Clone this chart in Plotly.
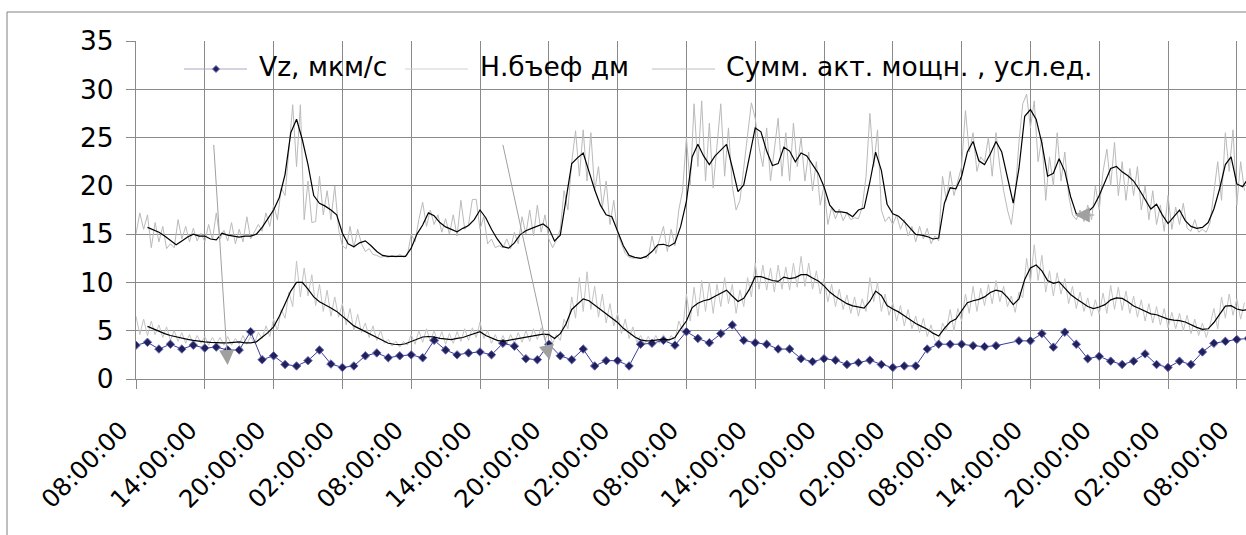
import plotly.graph_objects as go

# ---------------- data ----------------
# x axis: hours since the first 08:00:00
tick_hours = [0, 6, 12, 18, 24, 30, 36, 42, 48, 54, 60, 66, 72, 78, 84, 90, 96]
tick_labels = ["08:00:00", "14:00:00", "20:00:00", "02:00:00", "08:00:00", "14:00:00",
               "20:00:00", "02:00:00", "08:00:00", "14:00:00", "20:00:00", "02:00:00",
               "08:00:00", "14:00:00", "20:00:00", "02:00:00", "08:00:00"]
y_ticks = [0, 5, 10, 15, 20, 25, 30, 35]

# Vz, мкм/с  (hourly)
vz = [3.5, 3.8, 3.1, 3.6, 3.1, 3.5, 3.2, 3.3, 3.0, 3.0,
      4.9, 2.0, 2.4, 1.5, 1.35, 1.9, 3.0, 1.55, 1.2, 1.35,
      2.4, 2.7, 2.2, 2.4, 2.5, 2.2, 4.0, 3.0, 2.5, 2.7,
      2.8, 2.5, 3.7, 3.4, 2.1, 2.0, 3.6, 2.4, 2.0, 3.1,
      1.35, 1.9, 1.9, 1.35, 3.6, 3.7, 4.0, 3.5, 4.9, 4.2,
      3.75, 4.7, 5.6, 4.0, 3.75, 3.6, 3.1, 3.1, 2.1, 1.8,
      2.1, 1.95, 1.5, 1.7, 1.95, 1.5, 1.2, 1.35, 1.35, 3.1,
      3.6, 3.6, 3.6, 3.45, 3.35, 3.45, None, 3.95, 3.95, 4.7,
      3.3, 4.85, 3.6, 2.1, 2.35, 1.85, 1.5, 1.85, 2.6, 1.5,
      1.2, 1.85, 1.5, 2.8, 3.7, 3.9, 4.1, 4.2]
vz_step_h = 1.0

# Сумм. акт. мощн., усл.ед. (raw, every 20 min)
summ = [15.0, 17.2, 15.5, 17.0, 13.6, 16.2, 14.2, 15.8, 13.5, 14.0, 13.6, 16.5,
        14.5, 15.8, 14.2, 15.6, 14.3, 15.1, 14.2, 16.0, 14.4, 17.2, 14.5, 15.4,
        14.3, 16.2, 14.0, 15.5, 14.2, 16.8, 14.5, 15.2, 16.0, 15.3, 17.2, 15.8,
        18.0, 16.5, 19.8, 19.0, 23.5, 28.4, 22.0, 28.4, 16.5, 20.5, 16.2, 16.3,
        21.0, 17.0, 19.5, 16.5, 20.0, 15.5, 13.8, 13.5, 15.8, 13.6, 15.5, 14.0,
        13.2, 13.5, 12.9, 12.8, 12.6, 12.7, 12.6, 12.8, 12.6, 12.9, 12.6, 12.8,
        15.0, 14.2, 16.5, 18.3, 15.8, 17.5, 16.0, 17.0, 15.2, 16.6, 15.0, 17.0,
        14.8, 18.5, 15.5, 16.0, 18.6, 18.6, 15.5, 16.8, 14.0, 14.5, 13.6, 13.8,
        13.6, 14.5, 13.5, 15.2, 14.0, 16.8, 15.0, 17.5, 14.8, 18.0, 15.2, 17.0,
        14.5, 13.6, 14.4, 15.5, 19.5, 17.5, 22.5, 25.7, 21.0, 25.8, 20.5, 25.5,
        19.5, 22.0, 17.8, 20.5, 16.0, 18.5, 15.0, 14.0, 13.0, 12.6, 12.5, 12.6,
        12.5, 12.6, 12.5, 14.8, 13.0, 14.5, 15.8, 13.2, 15.5, 13.8, 17.5, 19.5,
        25.0, 20.0, 28.5, 22.0, 28.8, 20.5, 26.5, 19.8, 24.0, 28.5, 21.0, 26.0,
        20.0, 17.5, 18.5, 22.0, 25.5, 28.6, 27.0, 24.0, 22.0, 26.0, 20.5, 23.8,
        27.0, 21.0, 25.5, 20.5, 26.5, 22.0, 25.0, 20.5, 23.5, 19.5, 22.5, 18.0,
        20.0, 16.0, 17.8, 16.6, 17.6, 16.4, 17.2, 16.5, 16.7, 16.6, 17.8, 21.0,
        27.5, 22.0, 25.8, 17.5, 16.3, 16.8, 16.0, 17.0, 15.5, 16.5, 14.8, 15.8,
        14.2, 15.8, 14.5, 15.6, 14.0, 14.8, 14.3, 21.0, 18.5, 21.5, 19.0, 20.5,
        22.0, 27.8, 23.5, 25.5, 21.5, 23.0, 22.5, 25.0, 21.0, 25.5, 22.0, 19.5,
        17.5, 16.0, 19.0, 24.5, 28.5, 29.5, 26.0, 28.8, 22.5, 25.0, 18.5, 23.0,
        20.0, 25.5, 20.5, 23.5, 19.0, 17.0, 16.5, 17.5, 16.3, 18.0, 16.5, 20.0,
        17.5, 21.5, 23.8, 20.0, 24.5, 19.0, 22.5, 18.5, 21.8, 19.0, 22.0, 17.5,
        20.0, 16.5, 19.5, 16.0, 18.0, 15.3, 19.0, 15.5, 17.8, 16.0, 18.2, 15.6,
        15.3, 16.5, 15.2, 15.5, 15.2, 16.2, 19.5, 22.5, 18.5, 25.5, 21.5, 25.8,
        18.0, 22.5, 19.5]

# Н.бъеф дм (raw, every 20 min)
nbef = [6.5, 4.6, 6.2, 4.5, 6.0, 4.6, 5.6, 4.3, 5.4, 4.0, 5.0, 3.9,
        4.8, 3.7, 4.6, 3.6, 4.5, 3.7, 4.4, 3.5, 4.3, 3.6, 4.3, 3.5,
        4.4, 3.5, 4.2, 3.6, 4.5, 3.6, 4.4, 3.7, 4.8, 4.2, 5.5, 4.4,
        6.2, 5.0, 7.2, 6.3, 9.0, 7.5, 12.2, 8.5, 11.5, 8.6, 10.8, 7.6,
        9.8, 7.0, 9.2, 6.5, 8.5, 6.4, 7.8, 5.6, 7.3, 5.0, 6.7, 4.8,
        5.8, 4.3, 5.5, 4.0, 5.0, 3.7, 4.1, 3.4, 3.9, 3.3, 3.9, 3.5,
        4.6, 3.6, 5.0, 3.8, 5.2, 3.9, 5.0, 3.8, 4.9, 3.6, 4.7, 3.7,
        4.9, 3.9, 5.2, 4.0, 5.3, 4.3, 5.9, 4.2, 5.0, 3.7, 4.6, 3.6,
        4.5, 3.6, 4.6, 3.7, 4.8, 3.8, 5.0, 3.9, 5.2, 4.1, 5.3, 4.0,
        4.9, 3.7, 4.6, 4.0, 6.2, 5.2, 8.5, 6.3, 10.5, 7.0, 11.1, 7.2,
        9.6, 6.4, 8.8, 5.8, 7.8, 5.5, 6.8, 4.7, 6.2, 4.2, 5.4, 3.8,
        4.5, 3.6, 4.4, 3.7, 4.5, 3.7, 4.6, 3.8, 4.5, 4.0, 6.0, 5.0,
        8.8, 6.0, 9.5, 6.5, 10.2, 7.0, 10.0, 6.8, 9.8, 7.5, 10.5, 7.8,
        9.8, 6.8, 9.2, 7.5, 10.5, 8.5, 12.0, 9.3, 11.8, 9.2, 11.5, 9.0,
        11.8, 9.3, 11.6, 9.2, 12.0, 9.5, 12.7, 9.6, 12.0, 9.3, 11.2, 8.8,
        10.4, 8.0, 9.8, 7.5, 9.3, 7.2, 8.7, 6.8, 8.5, 6.5, 8.3, 7.0,
        10.5, 8.0, 10.0, 7.0, 8.8, 6.6, 7.9, 6.0, 7.6, 5.5, 7.2, 5.2,
        6.5, 4.8, 6.3, 4.4, 5.6, 4.0, 3.6, 5.8, 5.0, 7.2, 5.0, 7.3,
        6.0, 8.8, 6.8, 9.6, 7.0, 9.4, 7.6, 9.8, 7.8, 10.2, 8.0, 9.6,
        7.5, 8.6, 6.9, 9.0, 8.4, 12.5, 10.0, 13.9, 10.2, 12.8, 9.0, 11.2,
        8.6, 11.0, 8.8, 10.4, 7.8, 9.6, 7.3, 9.0, 7.0, 8.4, 6.5, 8.2,
        6.7, 8.9, 6.8, 9.7, 7.2, 9.5, 7.1, 9.1, 6.8, 8.6, 6.4, 8.2,
        6.0, 7.8, 5.8, 7.5, 5.6, 7.3, 5.3, 6.9, 5.2, 6.8, 5.0, 6.6,
        4.7, 6.2, 4.5, 5.8, 4.3, 5.6, 7.3, 5.2, 8.5, 6.3, 8.8, 6.6,
        8.3, 6.2, 7.9]
raw_step_h = 1.0 / 3.0

# moving-average trend lines (black), every 30 min starting at 1 h
ma_start_h = 1.0
ma_step_h = 0.5
ma_summ = [15.7, 15.45, 15.2, 14.8, 14.35, 13.9, 14.3, 14.7, 15.0, 14.8,
           14.8, 14.5, 14.4, 15.1, 14.9, 14.8, 14.7, 14.8, 14.8, 15.0,
           15.7, 16.6, 17.5, 18.8, 21.2, 25.5, 26.9, 24.8, 22.2, 19.0,
           18.2, 17.9, 17.5, 17.0, 15.1, 14.0, 13.7, 14.1, 14.3, 13.8,
           13.2, 12.8, 12.7, 12.7, 12.7, 12.7, 13.55, 15.0, 15.95, 17.2,
           16.9, 16.2, 15.75, 15.5, 15.25, 15.6, 15.9, 16.5, 17.5, 16.7,
           15.5, 14.5, 13.7, 13.55, 14.1, 14.95, 15.35, 15.6, 15.85, 16.05,
           15.6, 14.3, 14.9, 18.7, 22.3, 22.9, 23.4, 21.5, 19.6, 18.0,
           17.0, 16.8, 15.4, 13.8, 12.8, 12.6, 12.5, 12.7, 13.2, 13.9,
           13.95, 13.75, 14.1, 15.8, 18.4, 23.0, 24.3, 23.1, 22.2, 23.1,
           23.7, 24.3, 21.9, 19.4, 20.1, 23.2, 26.0, 25.6, 23.6, 22.1,
           22.3, 24.0, 23.6, 22.5, 23.4, 23.1, 22.2, 21.3, 19.9, 18.0,
           17.3, 17.3, 17.2, 16.8, 17.5, 17.7, 20.4, 23.5, 21.6, 18.1,
           17.1, 16.85, 16.3, 15.6, 14.97, 14.9, 14.75, 14.5, 14.6, 18.2,
           19.8, 19.7, 21.0, 23.5, 24.6, 22.6, 22.2, 23.3, 24.6, 23.5,
           21.0, 18.2, 21.8, 27.2, 27.9, 26.9, 24.4, 21.0, 21.3, 22.8,
           21.5, 18.9, 17.1, 16.85, 17.3, 17.85, 19.0, 20.4, 21.8, 22.0,
           21.45, 21.05, 20.5, 19.6, 18.6, 17.6, 18.1, 17.0, 16.1, 16.8,
           17.5, 16.4, 15.8, 15.6, 15.7, 16.2, 17.6, 19.7, 22.2, 23.0,
           20.2, 19.9, 20.8]
ma_nbef = [5.45, 5.2, 4.9, 4.7, 4.5, 4.35, 4.2, 4.1, 4.0, 3.9,
           3.85, 3.8, 3.75, 3.75, 3.75, 3.8, 3.85, 3.75, 3.75, 3.85,
           4.3, 4.8, 5.4, 6.5, 7.8, 9.1, 10.0, 10.0, 9.3, 8.5,
           8.0, 7.7, 7.35, 7.0, 6.45, 6.0, 5.5, 5.2, 4.9, 4.6,
           4.3, 4.0, 3.7, 3.6, 3.55, 3.65, 3.9, 4.15, 4.35, 4.4,
           4.35, 4.2, 4.1, 4.07, 4.2, 4.3, 4.5, 4.7, 4.9, 4.5,
           4.24, 4.0, 3.9, 4.0, 4.1, 4.24, 4.35, 4.45, 4.55, 4.65,
           4.6, 4.2, 4.7, 5.7, 7.2, 7.8, 8.3, 8.1, 7.65, 7.2,
           6.75, 6.35, 5.85, 5.25, 4.75, 4.35, 4.05, 3.95, 3.97, 4.05,
           4.12, 4.05, 4.3, 5.2, 6.0, 7.4, 7.85, 8.1, 8.25, 8.57,
           8.9, 9.2, 8.6, 8.03, 8.35, 9.3, 10.6, 10.6, 10.4, 10.2,
           10.1, 10.55, 10.4, 10.5, 10.8, 10.8, 10.45, 10.15, 9.65, 9.0,
           8.55, 8.15, 7.8, 7.58, 7.5, 7.35, 8.05, 9.1, 8.65, 7.6,
           7.25, 6.95, 6.55, 6.15, 5.75, 5.45, 5.15, 4.75, 4.45, 5.25,
           5.9, 6.2, 7.1, 7.9, 8.1, 8.25, 8.5, 8.95, 9.2, 9.05,
           8.45, 7.7, 8.3, 10.3, 11.5, 11.8, 11.2, 10.2, 9.9, 10.05,
           9.4, 8.75, 8.3, 7.9, 7.5, 7.3, 7.45, 7.7, 8.2, 8.4,
           8.35, 8.0, 7.55, 7.3, 7.0, 6.75, 6.65, 6.45, 6.2, 6.1,
           6.05, 5.9, 5.6, 5.35, 5.15, 5.2, 5.85, 6.7, 7.55, 7.6,
           7.25, 7.1, 7.2]

# annotation arrows: (tail_h, tail_v, tip_h, tip_v)
arrows = [(6.77, 24.4, 7.99, 1.45),
          (31.97, 24.4, 36.07, 1.97),
          (83.7, 16.98, 81.87, 16.98)]

series_names = ["Vz, мкм/с", "Н.бъеф дм", "Сумм. акт. мощн. , усл.ед."]

# ---------------- styling ----------------
FONT = "DejaVu Sans"
FS = 26.5
FS_X = 24.5
GRID = "#8a8a8a"
VZ_LINE = "#3c3ca0"
VZ_MARK = "#20205a"
VZ_MARK_EDGE = "#6a6ab8"
NBEF_COL = "#c4c4c4"
SUMM_COL = "#bababa"

W_FIG, H_FIG = 1246, 535
L, T, R, B = 136, 41, 0, 156
PW, PH = W_FIG - L - R, H_FIG - T - B
X_MAX = 96.8


def pxx(xp):
    return (xp - L) / PW


def pxy(yp):
    return (T + PH - yp) / PH


fig = go.Figure()

fig.add_trace(go.Scatter(x=[i * raw_step_h for i in range(len(nbef))], y=nbef,
                         mode="lines", line=dict(color=NBEF_COL, width=1),
                         name=series_names[1], showlegend=False, hoverinfo="skip"))
fig.add_trace(go.Scatter(x=[i * raw_step_h for i in range(len(summ))], y=summ,
                         mode="lines", line=dict(color=SUMM_COL, width=1),
                         name=series_names[2], showlegend=False, hoverinfo="skip"))
fig.add_trace(go.Scatter(x=[i * vz_step_h for i in range(len(vz))], y=vz,
                         mode="lines+markers", connectgaps=True,
                         line=dict(color=VZ_LINE, width=1),
                         marker=dict(symbol="diamond", size=6.5, color=VZ_MARK,
                                     line=dict(color=VZ_MARK_EDGE, width=1)),
                         name=series_names[0], showlegend=False))
fig.add_trace(go.Scatter(x=[ma_start_h + i * ma_step_h for i in range(len(ma_nbef))], y=ma_nbef,
                         mode="lines", line=dict(color="black", width=1.2),
                         showlegend=False, hoverinfo="skip"))
fig.add_trace(go.Scatter(x=[ma_start_h + i * ma_step_h for i in range(len(ma_summ))], y=ma_summ,
                         mode="lines", line=dict(color="black", width=1.2),
                         showlegend=False, hoverinfo="skip"))

shapes = []
# chart-area border (extends past the right / bottom edges like the original)
shapes.append(dict(type="rect", xref="paper", yref="paper",
                   x0=pxx(7), x1=pxx(1260), y0=pxy(550), y1=pxy(12),
                   line=dict(color="#808080", width=1), fillcolor="rgba(0,0,0,0)",
                   layer="below"))
# legend background hides the gridlines under it
shapes.append(dict(type="rect", xref="paper", yref="paper",
                   x0=pxx(175), x1=pxx(1098), y0=pxy(107), y1=pxy(36),
                   line=dict(width=0), fillcolor="white", layer="between"))

annotations = []
# manual legend
legend_items = [
    (series_names[0], 184, 247, 257, "#a8a8c4"),
    (series_names[1], 405, 468, 478, "#d2d2d2"),
    (series_names[2], 652, 715, 724, "#bdbdbd"),
]
LEG_Y = 69
for name, x0, x1, xt, col in legend_items:
    shapes.append(dict(type="line", xref="paper", yref="paper",
                       x0=pxx(x0), x1=pxx(x1), y0=pxy(LEG_Y), y1=pxy(LEG_Y),
                       line=dict(color=col, width=1.2)))
    annotations.append(dict(text=name, xref="paper", yref="paper",
                            x=pxx(xt), y=pxy(LEG_Y - 2), xanchor="left", yanchor="middle",
                            showarrow=False, font=dict(family=FONT, size=FS, color="black")))
# legend diamond marker for Vz
cx, cy, r = 216, LEG_Y, 3.5
shapes.append(dict(type="path", xref="paper", yref="paper",
                   path=f"M {pxx(cx)} {pxy(cy - r)} L {pxx(cx + r)} {pxy(cy)} "
                        f"L {pxx(cx)} {pxy(cy + r)} L {pxx(cx - r)} {pxy(cy)} Z",
                   fillcolor=VZ_MARK, line=dict(color=VZ_MARK_EDGE, width=1)))

for th, tv, hh, hv in arrows:
    annotations.append(dict(x=hh, y=hv, ax=th, ay=tv, xref="x", yref="y",
                            axref="x", ayref="y", text="", showarrow=True,
                            arrowhead=2, arrowsize=3, arrowwidth=1,
                            arrowcolor="#a0a0a0"))

fig.update_layout(
    width=W_FIG, height=H_FIG,
    margin=dict(l=L, r=R, t=T, b=B, pad=0),
    paper_bgcolor="white", plot_bgcolor="white",
    font=dict(family=FONT, size=FS, color="black"),
    showlegend=False,
    shapes=shapes, annotations=annotations,
    xaxis=dict(range=[0, X_MAX], tickvals=tick_hours, ticktext=tick_labels,
               tickangle=-45, showgrid=True, gridcolor=GRID, gridwidth=1,
               showline=True, linecolor=GRID, linewidth=1,
               ticks="outside", ticklen=9, tickcolor=GRID,
               tickfont=dict(family=FONT, size=FS_X, color="black"),
               ticklabelstandoff=17, ticklabelshift=-15,
               ticklabeloverflow="allow",
               zeroline=False, fixedrange=True),
    yaxis=dict(range=[0, 35], tickvals=y_ticks, showgrid=True, gridcolor=GRID,
               gridwidth=1, showline=True, linecolor=GRID, linewidth=1,
               ticks="outside", ticklen=9, tickcolor=GRID, ticklabelstandoff=7,
               zeroline=False, fixedrange=True),
)

fig.write_html("out.html")
